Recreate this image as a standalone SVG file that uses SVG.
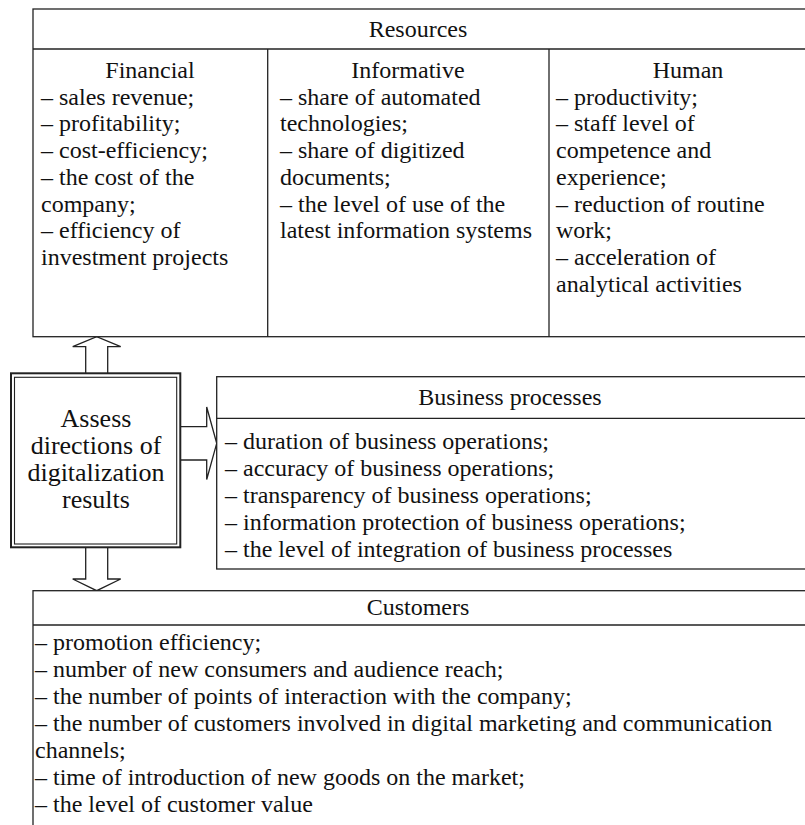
<svg xmlns="http://www.w3.org/2000/svg" width="805" height="825" viewBox="0 0 805 825">
<style>
.box{fill:#fff;stroke:#222;stroke-width:1.3}
.ln{stroke:#222;stroke-width:1.3;fill:none}
.arr{fill:#fff;stroke:#222;stroke-width:1.3;stroke-linejoin:miter}
text{font-family:"Liberation Serif","Times New Roman",serif;font-size:24px;fill:#111}
.c{text-anchor:middle}
.big{font-size:26px}
</style>
<rect width="805" height="825" fill="#fff"/>
<g id="connectors">
<polygon class="arr" points="85.7,374 85.7,346.7 72.7,346.7 96.7,336.7 120.7,346.7 107.7,346.7 107.7,374"/>
<polygon class="arr" points="180,426.7 206.7,426.7 206.7,407 216.7,443.3 206.7,479.5 206.7,460 180,460"/>
<polygon class="arr" points="85.7,547 85.7,579 72.7,579 96.7,590.7 120.7,579 107.7,579 107.7,547"/>
</g>
<g id="resources">
<rect class="box" x="33" y="9" width="800" height="327.7"/>
<line class="ln" x1="33" y1="49" x2="805" y2="49"/>
<line class="ln" x1="267.7" y1="49" x2="267.7" y2="336.7"/>
<line class="ln" x1="549" y1="49" x2="549" y2="336.7"/>
<text class="c" x="418" y="37">Resources</text>
</g>
<g id="financial">
<text class="c" x="150" y="78">Financial</text>
<text x="41" y="104.7">– sales revenue;</text>
<text x="41" y="131.4">– profitability;</text>
<text x="41" y="158.1">– cost-efficiency;</text>
<text x="41" y="184.8">– the cost of the</text>
<text x="41" y="211.5">company;</text>
<text x="41" y="238.2">– efficiency of</text>
<text x="41" y="264.9">investment projects</text>
</g>
<g id="informative">
<text class="c" x="408" y="78">Informative</text>
<text x="280" y="104.7">– share of automated</text>
<text x="280" y="131.4">technologies;</text>
<text x="280" y="158.1">– share of digitized</text>
<text x="280" y="184.8">documents;</text>
<text x="280" y="211.5">– the level of use of the</text>
<text x="280" y="238.2">latest information systems</text>
</g>
<g id="human">
<text class="c" x="688" y="78">Human</text>
<text x="556" y="104.7">– productivity;</text>
<text x="556" y="131.4">– staff level of</text>
<text x="556" y="158.1">competence and</text>
<text x="556" y="184.8">experience;</text>
<text x="556" y="211.5">– reduction of routine</text>
<text x="556" y="238.2">work;</text>
<text x="556" y="264.9">– acceleration of</text>
<text x="556" y="291.6">analytical activities</text>
</g>
<g id="assess">
<rect x="11" y="373.3" width="169.3" height="174" fill="#fff" stroke="#222" stroke-width="2"/>
<rect x="14.5" y="377.3" width="162.2" height="166.7" fill="none" stroke="#222" stroke-width="1.1"/>
<text class="c big" x="96" y="427">Assess</text>
<text class="c big" x="96" y="454">directions of</text>
<text class="c big" x="96" y="481">digitalization</text>
<text class="c big" x="96" y="508">results</text>
</g>
<g id="business-processes">
<rect class="box" x="216.7" y="376.7" width="620" height="192.3"/>
<line class="ln" x1="216.7" y1="418.3" x2="805" y2="418.3"/>
<text class="c" x="510" y="405">Business processes</text>
<text x="225" y="449">– duration of business operations;</text>
<text x="225" y="476">– accuracy of business operations;</text>
<text x="225" y="503">– transparency of business operations;</text>
<text x="225" y="530">– information protection of business operations;</text>
<text x="225" y="557">– the level of integration of business processes</text>
</g>
<g id="customers">
<rect class="box" x="33" y="590.7" width="800" height="260"/>
<line class="ln" x1="33" y1="625" x2="805" y2="625"/>
<text class="c" x="418" y="615">Customers</text>
<text x="35" y="650">– promotion efficiency;</text>
<text x="35" y="677">– number of new consumers and audience reach;</text>
<text x="35" y="704">– the number of points of interaction with the company;</text>
<text x="35" y="731">– the number of customers involved in digital marketing and communication</text>
<text x="35" y="758">channels;</text>
<text x="35" y="785">– time of introduction of new goods on the market;</text>
<text x="35" y="812">– the level of customer value</text>
</g>
</svg>
